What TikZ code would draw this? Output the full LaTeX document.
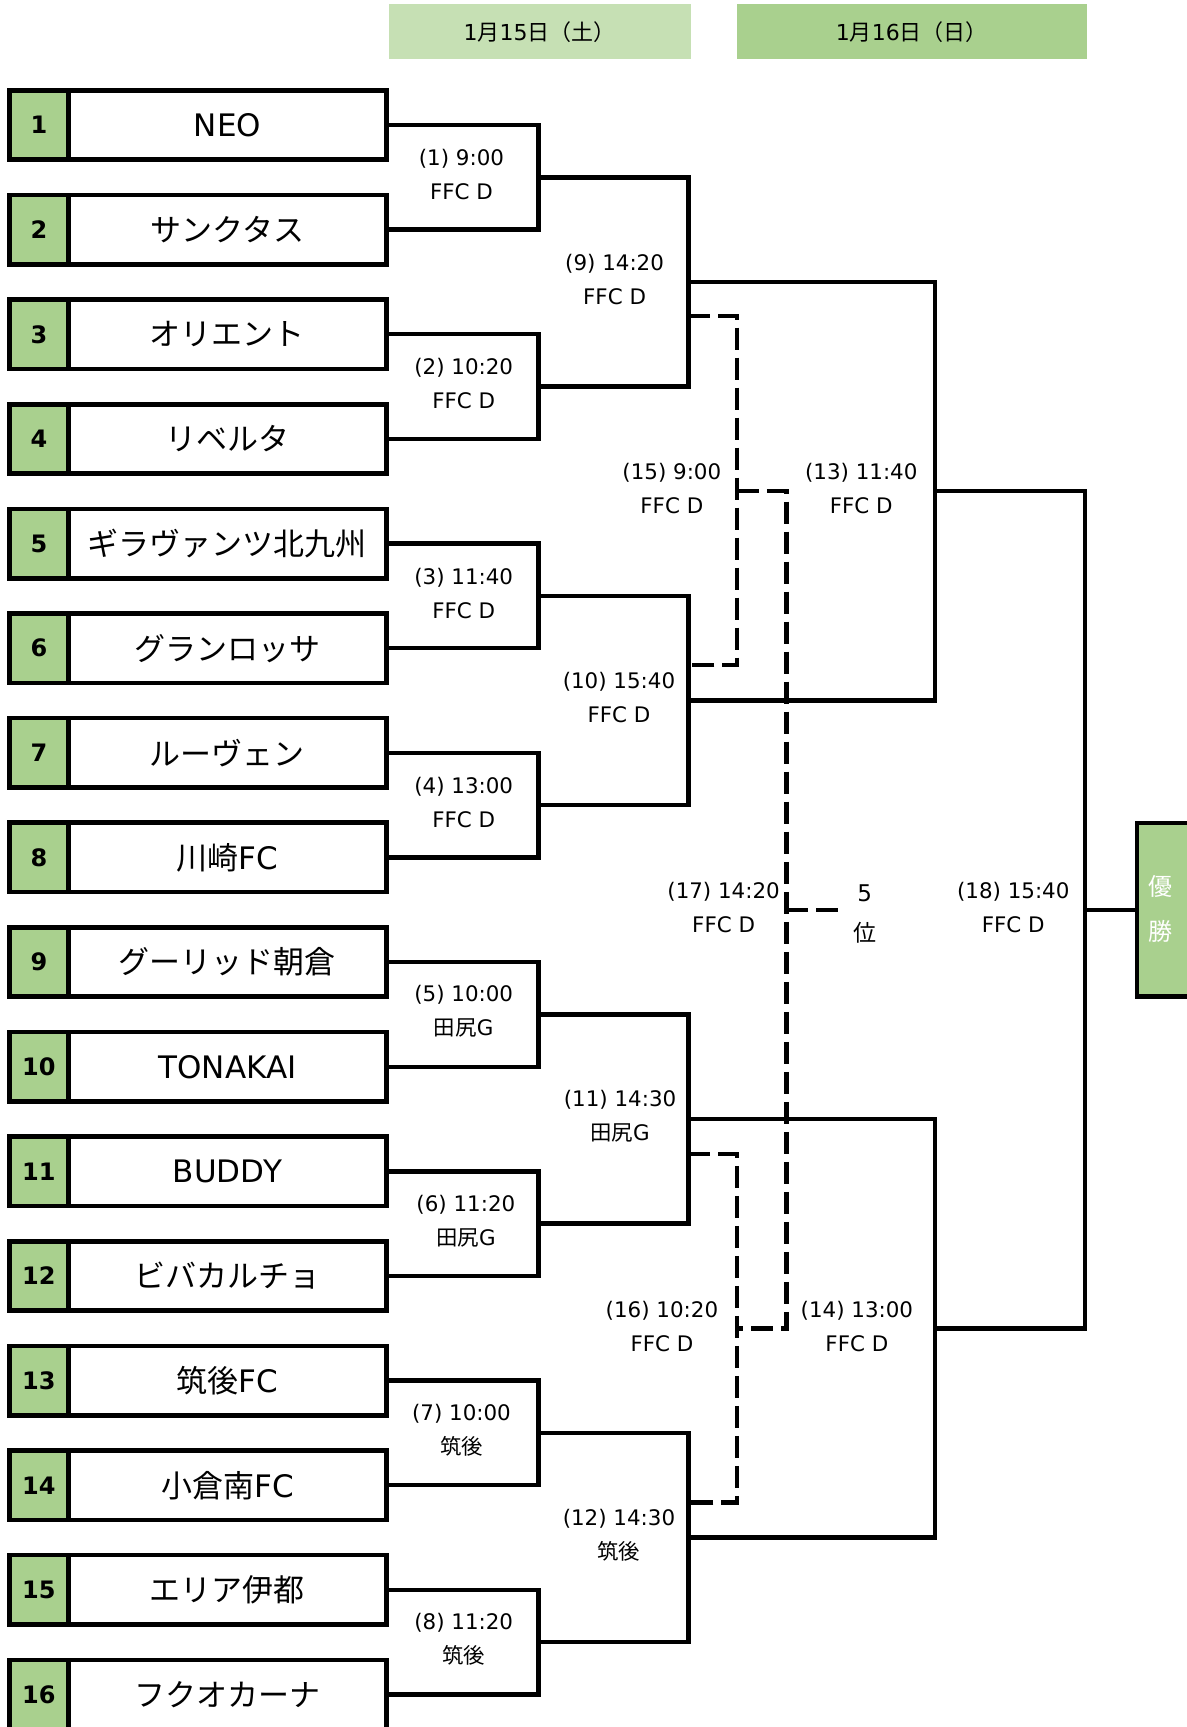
\documentclass[tikz,border=0pt]{standalone}
\usepackage{fontspec}
\setmainfont{DejaVu Sans}
\newfontfamily\cjk{Noto Sans CJK JP}
\definecolor{daysat}{HTML}{C6E0B4}
\definecolor{daysun}{HTML}{A9D08E}
\definecolor{seedgreen}{HTML}{A9D08E}
\tikzset{
    namecell/.style={rectangle, draw, line width=2.3pt, inner sep=0pt,
        minimum width=159.1pt, minimum height=34.7pt, font=\fontsize{15.5}{18}\selectfont},
    numcell/.style={rectangle, draw, fill=seedgreen, line width=2.3pt, inner sep=0pt,
        minimum width=29.3pt, minimum height=34.7pt, font=\fontsize{12}{14}\selectfont\bfseries}
}
\tikzset{
    dayhead/.style={rectangle, inner sep=0pt, minimum height=27.5pt, font=\fontsize{11}{12}\selectfont},
    matchinfo/.style={align=center, inner sep=0pt, font=\fontsize{10.7}{17}\selectfont},
    bracket/.style={line width=2.2pt},
    losers/.style={line width=2.2pt, dash pattern=on 11pt off 4pt}
}

\begin{document}
\begin{tikzpicture}[x=0.5506pt, y=-0.5506pt]
    \useasboundingbox (0,0) rectangle (1077,1568);

    \node (d1) [dayhead, fill=daysat, minimum width=150.9pt] at (490,29) {1{\cjk 月}15{\cjk 日（土）}};
    \node (d2) [dayhead, fill=daysun, minimum width=175.1pt] at (828,29) {1{\cjk 月}16{\cjk 日（日）}};

    % teams
    \foreach \i/\team in {1/NEO, 2/{\cjk サンクタス}, 3/{\cjk オリエント}, 4/{\cjk リベルタ},
        5/{\cjk ギラヴァンツ北九州}, 6/{\cjk グランロッサ}, 7/{\cjk ルーヴェン}, 8/{\cjk 川崎}FC,
        9/{\cjk グーリッド朝倉}, 10/TONAKAI, 11/BUDDY, 12/{\cjk ビバカルチョ},
        13/{\cjk 筑後}FC, 14/{\cjk 小倉南}FC, 15/{\cjk エリア伊都}, 16/{\cjk フクオカーナ}} {
        \node (n\i) [numcell] at (35.35,{113.5+95*(\i-1)}) {\i};
        \node (t\i) [namecell] at (206.5,{113.5+95*(\i-1)}) {\team};
    }

    \foreach \k in {1,...,8} \coordinate (m\k) at (489,{161+190*(\k-1)});
    \foreach \k in {9,...,12} \coordinate (m\k) at (625,{256+380*(\k-9)});
    \coordinate (m13) at (849,446);
    \coordinate (m14) at (849,1206);
    \coordinate (m18) at (985,826);
    \coordinate (l9) at (625,287);
    \coordinate (l10) at (625,604);
    \coordinate (l11) at (625,1048);
    \coordinate (l12) at (625,1364);
    \coordinate (m15) at (669,446);
    \coordinate (m16) at (669,1206);
    \coordinate (m17) at (714,826);
    \coordinate (p5) at (762,826);

    \foreach \k in {1,...,8} {
        \pgfmathtruncatemacro\a{2*\k-1}
        \pgfmathtruncatemacro\b{2*\k}
        \draw[bracket] (t\a.east) -| (m\k) |- (t\b.east);
    }
    \draw[bracket] (m1) -| (m9) |- (m2);
    \draw[bracket] (m3) -| (m10) |- (m4);
    \draw[bracket] (m5) -| (m11) |- (m6);
    \draw[bracket] (m7) -| (m12) |- (m8);
    \draw[bracket] (m9) -| (m13) |- (m10);
    \draw[bracket] (m11) -| (m14) |- (m12);
    \draw[bracket] (m13) -| (m18) |- (m14);

    % 5th place
    \draw[losers] (l9) -| (m15) |- (l10);
    \draw[losers] (l11) -| (m16) |- (l12);
    \draw[losers] (m15) -| (m17) |- (m16);
    \draw[losers] (m17) -- (p5);

    \node (champ) [rectangle, draw, fill=seedgreen, line width=2.3pt, minimum width=41.6pt,
        minimum height=86.9pt] at (1070,826) {};
    \node (champtxt) [align=center, text=white, font=\cjk\fontsize{12}{22.5}\selectfont] at (1054,825) {優\\勝};
    \draw[bracket] (m18) -- (m18 -| champ.west);

    \node (g1) [matchinfo] at (419,158.5) {(1) 9:00\\FFC D};
    \node (g2) [matchinfo] at (421,348.5) {(2) 10:20\\FFC D};
    \node (g3) [matchinfo] at (421,538.5) {(3) 11:40\\FFC D};
    \node (g4) [matchinfo] at (421,728.5) {(4) 13:00\\FFC D};
    \node (g5) [matchinfo] at (421,918.5) {(5) 10:00\\{\cjk 田尻}G};
    \node (g6) [matchinfo] at (423,1108.5) {(6) 11:20\\{\cjk 田尻}G};
    \node (g7) [matchinfo] at (419,1298.5) {(7) 10:00\\{\cjk 筑後}};
    \node (g8) [matchinfo] at (421,1488.5) {(8) 11:20\\{\cjk 筑後}};
    \node (g9) [matchinfo] at (558,253.5) {(9) 14:20\\FFC D};
    \node (g10) [matchinfo] at (562,633.5) {(10) 15:40\\FFC D};
    \node (g11) [matchinfo] at (563,1013.5) {(11) 14:30\\{\cjk 田尻}G};
    \node (g12) [matchinfo] at (562,1393.5) {(12) 14:30\\{\cjk 筑後}};
    \node (g13) [matchinfo] at (782,443.5) {(13) 11:40\\FFC D};
    \node (g14) [matchinfo] at (778,1204) {(14) 13:00\\FFC D};
    \node (g15) [matchinfo] at (610,443.5) {(15) 9:00\\FFC D};
    \node (g16) [matchinfo] at (601,1204) {(16) 10:20\\FFC D};
    \node (g17) [matchinfo] at (657,824) {(17) 14:20\\FFC D};
    \node (g18) [matchinfo] at (920,824) {(18) 15:40\\FFC D};
    \node (rank5) [align=center, font=\fontsize{11.5}{20}\selectfont] at (785,830) {5\\{\cjk 位}};
\end{tikzpicture}
\end{document}
